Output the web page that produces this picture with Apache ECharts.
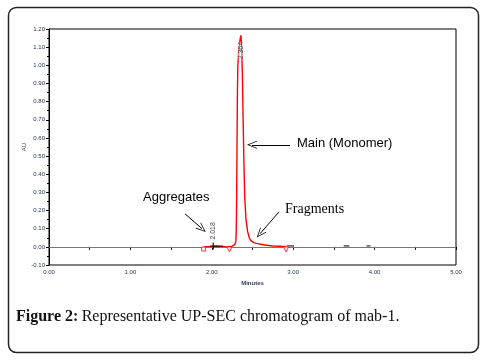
<!DOCTYPE html>
<html>
<head>
<meta charset="utf-8">
<script src="https://cdn.jsdelivr.net/npm/echarts@6/dist/echarts.min.js"></script>
<style>
  html, body { margin: 0; padding: 0; background: #fff; }
  #main { width: 485px; height: 364px; }
</style>
</head>
<body>
<div id="main"></div>
<script>
// chromatogram trace (minutes, AU)
var traceTime = [1.90, 1.95, 2.00, 2.05, 2.10, 2.15, 2.20, 2.25, 2.28, 2.295, 2.30, 2.305, 2.31, 2.315, 2.32, 2.33, 2.34, 2.35, 2.357, 2.365, 2.375, 2.385, 2.395, 2.405, 2.42, 2.44, 2.46, 2.48, 2.52, 2.58, 2.65, 2.75, 2.85, 2.91];
var traceAU   = [0.000, 0.001, 0.002, 0.003, 0.002, 0.001, 0.000, 0.004, 0.012, 0.030, 0.080, 0.250, 0.560, 0.860, 1.000, 1.080, 1.120, 1.150, 1.165, 1.120, 0.960, 0.700, 0.450, 0.270, 0.150, 0.085, 0.050, 0.034, 0.022, 0.016, 0.010, 0.005, 0.003, 0.002];
// small black baseline pieces outside the integrated peak
var noiseTime = [2.05, 2.14, null, 2.92, 3.01, null, 3.62, 3.69, null, 3.90, 3.95];
var noiseAU   = [0.004, 0.004, null, 0.005, 0.005, null, 0.005, 0.005, null, 0.005, 0.005];
// peak labels
var peakTimes  = [2.018, 2.357];
var peakAU     = [0.004, 1.165];
var peakLabels = ["2.018", "2.364"];
// integration marks
var startMark = [1.90, -0.012];
var dropTimes = [2.217, 2.912];
var dropAU    = [-0.014, -0.014];

var yTicks = { min: -0.10, max: 1.20, step: 0.10 };
var xTicks = { min: 0, max: 5, step: 1 };

var chart = echarts.init(document.getElementById('main'));

function zip(a, b) { return a.map(function (v, i) { return v === null ? [null, null] : [v, b[i]]; }); }

var chevron = 'path://M0,10 L5,0 L10,10 L9,10 L5,2 L1,10 Z';
var arrowStyle = { color: '#000', width: 1, type: 'solid' };

chart.setOption({
  animation: false,
  grid: { left: 49, right: 29, top: 29, bottom: 99, show: true, borderColor: '#000', borderWidth: 1 },
  xAxis: {
    type: 'value', min: xTicks.min, max: xTicks.max, interval: xTicks.step,
    name: 'Minutes', nameLocation: 'middle', nameGap: 15, nameMoveOverlap: false,
    nameTextStyle: { fontSize: 6, color: '#33405a', fontWeight: 'bold', fontFamily: 'Liberation Sans' },
    axisLine: { lineStyle: { color: '#000', width: 1 } },
    axisTick: { length: 3, lineStyle: { color: '#000' } },
    minorTick: { show: true, splitNumber: 2, length: 3, lineStyle: { color: '#000' } },
    axisLabel: { fontSize: 6, color: '#2a3550', margin: 4, fontFamily: 'Liberation Sans',
      formatter: function (v) { return v.toFixed(2); } },
    splitLine: { show: false }
  },
  yAxis: {
    type: 'value', min: yTicks.min, max: yTicks.max, interval: yTicks.step,
    name: 'AU', nameLocation: 'middle', nameGap: 22, nameMoveOverlap: false,
    nameTextStyle: { fontSize: 6, color: '#33405a', fontFamily: 'Liberation Sans' },
    axisLine: { show: true, lineStyle: { color: '#000', width: 1 } },
    axisTick: { show: true, length: 3, lineStyle: { color: '#000' } },
    minorTick: { show: true, splitNumber: 2, length: 2, lineStyle: { color: '#000' } },
    axisLabel: { fontSize: 6, color: '#2a3550', margin: 4, fontFamily: 'Liberation Sans',
      formatter: function (v) { return v.toFixed(2); } },
    splitLine: { show: false }
  },
  graphic: [
    { type: 'rect', shape: { x: 8.5, y: 7.5, width: 470, height: 345, r: 8 }, style: { fill: 'none', stroke: '#222', lineWidth: 1.5 }, z: -1 },
    { type: 'text', left: 297, top: 137, style: { text: 'Main (Monomer)', font: '13px "Liberation Sans"', fill: '#000' } },
    { type: 'text', left: 143, top: 191, style: { text: 'Aggregates', font: '13px "Liberation Sans"', fill: '#000' } },
    { type: 'text', left: 285, top: 202, style: { text: 'Fragments', font: '14px "Liberation Serif"', fill: '#000' } },
    { type: 'text', left: 16, top: 309, style: {
        rich: { b: { font: 'bold 16px "Liberation Serif"', fill: '#111' }, n: { font: '16px "Liberation Serif"', fill: '#111' } },
        text: '{b|Figure 2:} {n|Representative UP-SEC chromatogram of mab-1.}' } }
  ],
  series: [
    {
      type: 'line', data: zip(traceTime, traceAU), showSymbol: false, smooth: false,
      lineStyle: { color: '#ff0000', width: 1.4 }, z: 3,
      markLine: {
        silent: true, symbol: ['none', 'none'], label: { show: false },
        lineStyle: { color: '#777', width: 1, type: 'solid' },
        data: [{ yAxis: 0 }]
      }
    },
    {
      type: 'line', data: zip(noiseTime, noiseAU), showSymbol: false, connectNulls: false,
      lineStyle: { color: '#000', width: 1 }, z: 4
    },
    {
      type: 'scatter', data: [
        { value: [peakTimes[0], peakAU[0]], symbol: 'path://M4,0H6V10H4ZM0,4H10V6H0Z', symbolSize: 7,
          itemStyle: { color: '#000' },
          label: { show: true, position: 'top', distance: 3, rotate: 90, align: 'left', verticalAlign: 'middle', formatter: peakLabels[0] } },
        { value: [peakTimes[1], peakAU[1]], symbol: 'circle', symbolSize: 1,
          itemStyle: { color: 'rgba(0,0,0,0)' },
          label: { show: true, position: 'bottom', distance: 6, rotate: 90, align: 'right', verticalAlign: 'middle', formatter: peakLabels[1],
            backgroundColor: 'rgba(255,255,255,0.55)' } }
      ],
      label: { fontSize: 7, color: '#111', fontFamily: 'Liberation Sans' }, z: 5
    },
    {
      type: 'scatter', data: [startMark], symbol: 'rect', symbolSize: 4,
      itemStyle: { color: '#fff', borderColor: '#ff0000', borderWidth: 1 }, z: 5
    },
    {
      type: 'scatter', data: zip(dropTimes, dropAU), symbol: 'triangle', symbolSize: 5, symbolRotate: 180,
      itemStyle: { color: '#fff', borderColor: '#ff0000', borderWidth: 1 }, z: 5,
      markLine: {
        silent: true, label: { show: false }, symbol: ['none', chevron], symbolSize: [8, 10],
        lineStyle: arrowStyle,
        data: [
          [{ coord: [2.961, 0.562] }, { coord: [2.494, 0.562] }],
          [{ coord: [1.671, 0.182] }, { coord: [1.880, 0.100] }],
          [{ coord: [2.826, 0.193] }, { coord: [2.592, 0.072] }]
        ]
      }
    }
  ]
});
</script>
</body>
</html>
